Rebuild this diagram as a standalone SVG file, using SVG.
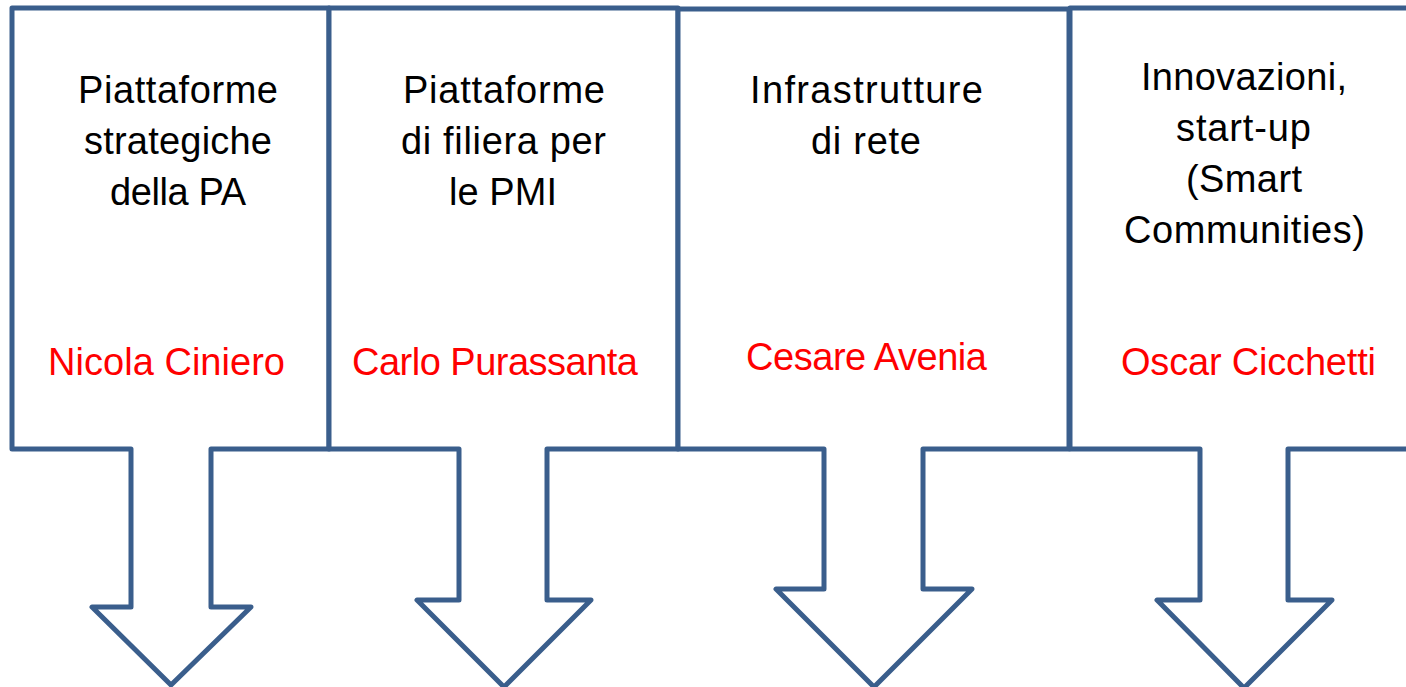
<svg xmlns="http://www.w3.org/2000/svg" width="1406" height="687" viewBox="0 0 1406 687">
<style>
.shape{fill:#ffffff;stroke:#3A5E8C;stroke-width:5;stroke-linejoin:round}
.t{font-family:"Liberation Sans",Arial,sans-serif;font-size:38px;fill:#000000;text-anchor:middle}
.n{font-family:"Liberation Sans",Arial,sans-serif;font-size:38px;fill:#FF0000;text-anchor:middle}
</style>
<rect width="1406" height="687" fill="#ffffff"/>
<g id="connectors"></g>
<g id="node1">
<path class="shape" d="M12,8 H329 V449 H211 V607 H251 L171,685 L92,607 H131 V449 H12 Z"/>
<text class="t" x="178" y="103" textLength="200">Piattaforme</text>
<text class="t" x="178" y="154" textLength="188">strategiche</text>
<text class="t" x="178" y="205" textLength="136">della PA</text>
<text class="n" x="166.5" y="375" textLength="237">Nicola Ciniero</text>
</g>
<g id="node2">
<path class="shape" d="M329,8 H678 V449 H547 V600 H591 L504,687 L417,600 H459 V449 H329 Z"/>
<text class="t" x="504" y="103" textLength="202">Piattaforme</text>
<text class="t" x="503.5" y="154" textLength="205">di filiera per</text>
<text class="t" x="503" y="205" textLength="108">le PMI</text>
<text class="n" x="495" y="375" textLength="286">Carlo Purassanta</text>
</g>
<g id="node3">
<path class="shape" d="M678,9 H1069 V449 H923 V589 H972 L874,687 L776,589 H824 V449 H678 Z"/>
<text class="t" x="866.5" y="103" textLength="233">Infrastrutture</text>
<text class="t" x="866" y="154" textLength="110">di rete</text>
<text class="n" x="866.5" y="370" textLength="241">Cesare Avenia</text>
</g>
<g id="node4">
<path class="shape" d="M1070,8 H1412 V449 H1288 V600 H1332 L1244,688 L1157,600 H1200 V449 H1070 Z"/>
<text class="t" x="1244" y="90" textLength="206">Innovazioni,</text>
<text class="t" x="1243.5" y="141" textLength="135">start-up</text>
<text class="t" x="1244" y="192" textLength="116">(Smart</text>
<text class="t" x="1244.5" y="243" textLength="241">Communities)</text>
<text class="n" x="1248.5" y="375" textLength="255">Oscar Cicchetti</text>
</g>
</svg>
